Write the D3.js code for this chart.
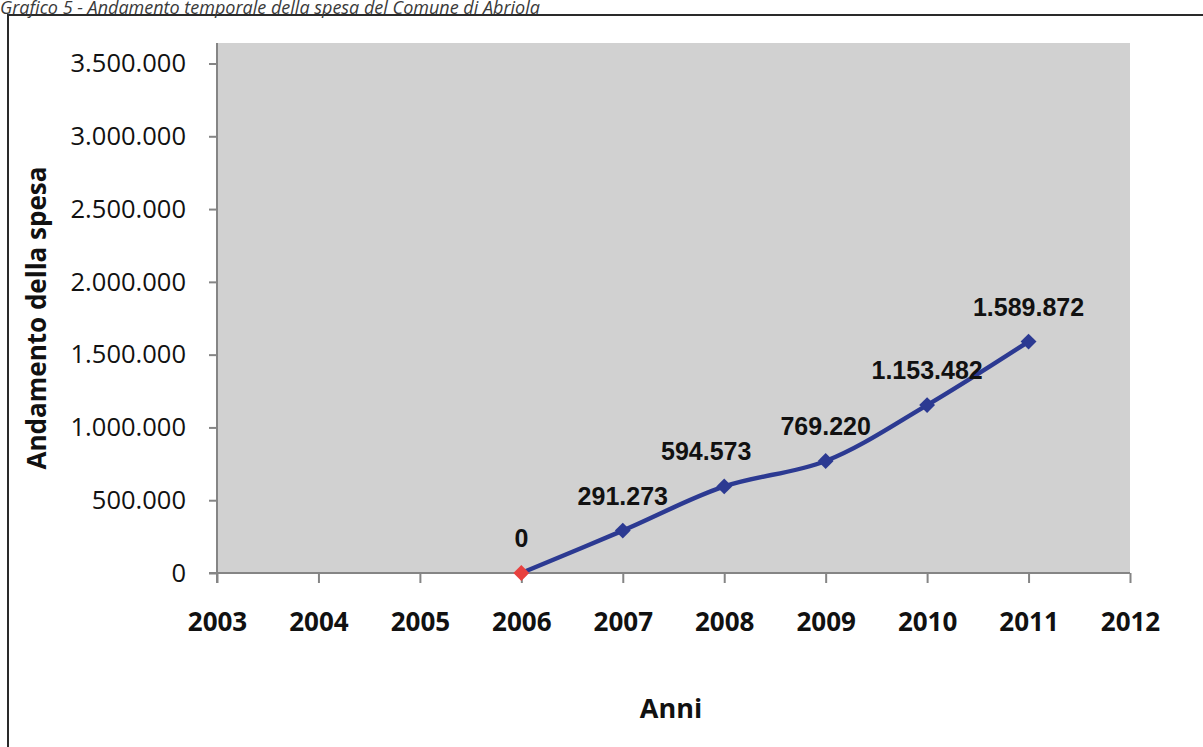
<!DOCTYPE html>
<html>
<head>
<meta charset="utf-8">
<script src="https://cdn.jsdelivr.net/npm/d3@7"></script>
<style>
  html, body { margin: 0; padding: 0; background: #fff; }
  svg { display: block; }
</style>
</head>
<body>
<svg id="chart" width="1203" height="747"></svg>
<script>
// Spesa annua del Comune di Abriola
const years = [2006, 2007, 2008, 2009, 2010, 2011];
const spesa = [0, 291273, 594573, 769220, 1153482, 1589872];
const valueLabels = ["0", "291.273", "594.573", "769.220", "1.153.482", "1.589.872"];
const yearTicks = [2003, 2004, 2005, 2006, 2007, 2008, 2009, 2010, 2011, 2012];
const spesaTicks = [0, 500000, 1000000, 1500000, 2000000, 2500000, 3000000, 3500000];

const titleText = "Grafico 5 - Andamento temporale della spesa del Comune di Abriola";
const xTitle = "Anni";
const yTitle = "Andamento della spesa";

const svg = d3.select("#chart");

// plot area
const plotLeft = 217, plotRight = 1130, plotTop = 43, plotBottom = 573;

const x = d3.scaleLinear().domain([2003, 2012]).range([plotLeft, plotRight]);
const y = d3.scaleLinear().domain([0, 3500000]).range([plotBottom, 63.5]);

// Italian thousand separator
const fmt = d3.formatLocale({ decimal: ",", thousands: ".", grouping: [3], currency: ["€", ""] }).format(",d");

// outer frame
svg.append("rect")
  .attr("x", 8).attr("y", 15)
  .attr("width", 1300).attr("height", 800)
  .attr("fill", "#fff")
  .attr("stroke", "#2a2a2a")
  .attr("stroke-width", 2);

// caption above the frame
svg.append("text")
  .attr("x", 0).attr("y", 14)
  .attr("font-family", "Open Sans")
  .attr("font-style", "italic")
  .attr("font-size", 18)
  .attr("fill", "#3a3a3a")
  .text(titleText);

// plot background
svg.append("rect")
  .attr("x", plotLeft).attr("y", plotTop)
  .attr("width", plotRight - plotLeft).attr("height", plotBottom - plotTop)
  .attr("fill", "#d1d1d1");

// y axis
const yAxis = svg.append("g")
  .attr("transform", `translate(${plotLeft},0)`)
  .call(d3.axisLeft(y).tickValues(spesaTicks).tickFormat(fmt).tickSize(8).tickPadding(23));
yAxis.select(".domain").remove();
yAxis.append("line")
  .attr("x1", 0).attr("x2", 0).attr("y1", plotTop).attr("y2", plotBottom + 10)
  .attr("stroke", "#858585").attr("stroke-width", 2);
yAxis.selectAll(".tick line").attr("stroke", "#858585").attr("stroke-width", 2);
yAxis.selectAll(".tick text")
  .attr("font-family", "Open Sans")
  .attr("font-size", 25.5)
  .attr("fill", "#111");

// x axis
const xAxis = svg.append("g")
  .attr("transform", `translate(0,${plotBottom})`)
  .call(d3.axisBottom(x).tickValues(yearTicks).tickFormat(d3.format("d")).tickSize(10).tickPadding(30));
xAxis.select(".domain").remove();
xAxis.append("line")
  .attr("x1", plotLeft - 8).attr("x2", plotRight).attr("y1", 0).attr("y2", 0)
  .attr("stroke", "#858585").attr("stroke-width", 2);
xAxis.selectAll(".tick line").attr("stroke", "#858585").attr("stroke-width", 2);
xAxis.selectAll(".tick text")
  .attr("font-family", "Open Sans")
  .attr("font-weight", "bold")
  .attr("font-size", 26)
  .attr("fill", "#111");

// axis titles
svg.append("text")
  .attr("x", 671).attr("y", 718)
  .attr("text-anchor", "middle")
  .attr("font-family", "Open Sans")
  .attr("font-weight", "bold")
  .attr("font-size", 27)
  .attr("fill", "#111")
  .text(xTitle);

svg.append("text")
  .attr("transform", "translate(46,318) rotate(-90)")
  .attr("text-anchor", "middle")
  .attr("font-family", "Open Sans")
  .attr("font-weight", "bold")
  .attr("font-size", 26)
  .attr("fill", "#111")
  .text(yTitle);

// smoothed series line
const pts = years.map((yr, i) => ({ year: yr, value: spesa[i], label: valueLabels[i] }));
const line = d3.line()
  .x(d => x(d.year))
  .y(d => y(d.value))
  .curve(d3.curveCatmullRom.alpha(0.5));

svg.append("path")
  .datum(pts)
  .attr("d", line)
  .attr("fill", "none")
  .attr("stroke", "#2c3a92")
  .attr("stroke-width", 4.5)
  .attr("stroke-linejoin", "round");

// diamond markers, first one highlighted in red
const diamond = d3.symbol().type(d3.symbolDiamond2).size(160);
svg.selectAll(".marker")
  .data(pts)
  .join("path")
  .attr("class", "marker")
  .attr("transform", d => `translate(${x(d.year)},${y(d.value)})`)
  .attr("d", diamond)
  .attr("fill", (d, i) => i === 0 ? "#e8413f" : "#2c3a92");

// value labels
svg.selectAll(".vlabel")
  .data(pts)
  .join("text")
  .attr("class", "vlabel")
  .attr("x", d => x(d.year) + (d.year === 2008 ? -18 : 0))
  .attr("y", d => y(d.value) - 26)
  .attr("text-anchor", "middle")
  .attr("font-family", "Liberation Sans")
  .attr("font-weight", "bold")
  .attr("font-size", 25)
  .attr("fill", "#111")
  .text(d => d.label);
</script>
</body>
</html>
